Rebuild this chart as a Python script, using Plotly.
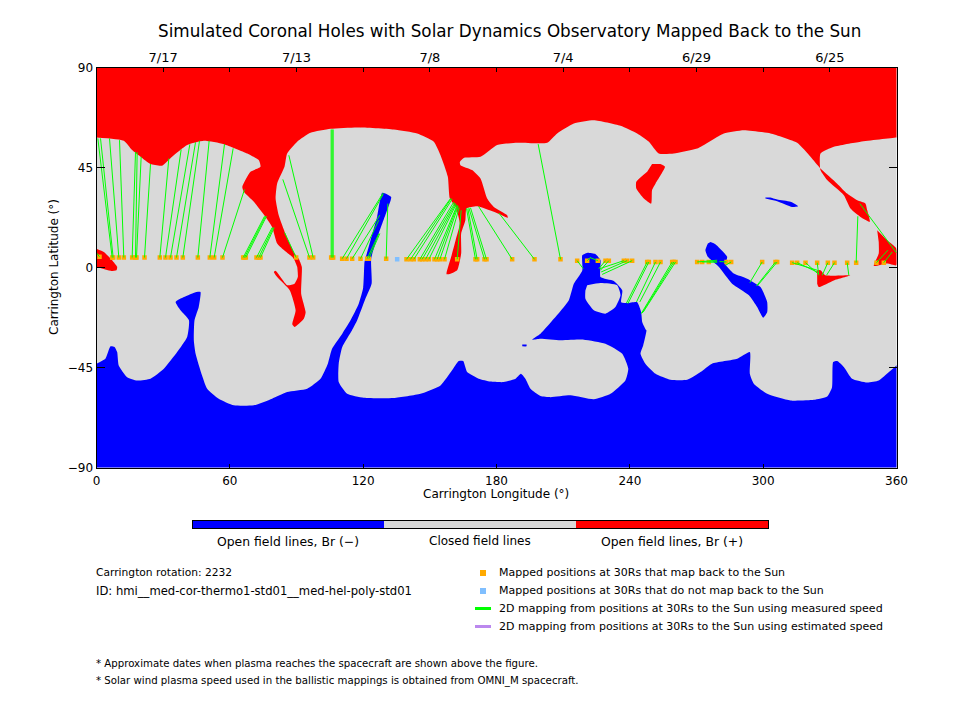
import plotly.graph_objects as go

# north polar hole (Br +), boundary read left to right, streaks included
north_lon = [0, 12.3, 16, 19.8, 24.3, 29.5, 34, 40.8, 48.3, 57.3, 67.8, 73, 73.8, 69.3, 65.6, 66.3, 70.8, 76, 79, 81.3,
             83.6, 88.1, 89.1, 90.3, 90.6, 89.1, 85.8, 80.6, 79.8, 81.3, 87, 89.6, 88.1, 89.1, 93.3, 94.1, 92.1, 92.4,
             91, 89.1, 87.3, 85, 82, 80.6, 81.3, 84.6, 85.8, 90.3, 96.3, 105.3, 117.3, 133.8, 144.3, 151.8, 154.8,
             158.1, 159, 161.6, 163.5, 161.6, 159.6, 157.5, 158.6, 162.3, 164.1, 164.1, 166, 166.5, 171.3, 178.8, 185.1,
             184.8, 178.8, 175.8, 172.8, 169, 163.8, 163.5, 165.3, 172.8, 180.3, 189.3, 202.8, 207.3, 214.8, 223.8,
             235.8, 243.3, 248.6, 253, 259.8, 270.3, 282.3, 291.3, 303.3, 315.3, 321.3, 325.8, 333.3, 337.8, 342.3, 346,
             346.8, 348, 343.8, 339.3, 336.3, 328.8, 325.8, 325.8, 331.8, 343.8, 360, 362, 362, -2, -2]
north_lat = [58.7, 57.2, 53, 50, 46.7, 46, 50, 55.3, 57.2, 55.7, 51.5, 48.5, 45.5, 43.2, 36.4, 34.2, 29.7, 23, 18.4, 10.9,
             8.6, 4.9, 3.4, 0.4, -4.2, -7.2, -7.9, -1.4, -1.9, -4.2, -10.2, -19.2, -25.5, -26.7, -23, -20, -11.7, 0.4,
             4.1, 6.4, 10.1, 15.4, 23.7, 31.2, 38, 45.5, 51.5, 56.8, 60.8, 62.6, 63.2, 62.3, 60.5, 56.8, 50.7,
             41, 31.2, 27.4, 19.9, 12.4, 4.9, -2.9, -2.9, -1.1, 6.4, 15.4, 21.4, 26.7, 27.7, 25.2, 22.5,
             23.7, 27.4, 31.2, 40.2, 44, 46.2, 47.7, 49.5, 50, 55.3, 56.3, 56.3, 60.5, 65, 66.5,
             64, 60.5, 56.8, 51.5, 51.5, 53.7, 60.5, 62, 60.5, 56.3, 50, 44.7, 37.9, 33.4, 30.4, 29,
             26, 20.7, 22.9, 26.7, 32.7, 39.5, 44, 51.5, 54.5, 56.8, 58.7, 58.9, 95, 95, 58.7]

# south polar hole (Br -), with the channels reaching up past the equator
south_lon = [0, 4, 6.3, 8.1, 9.3, 10, 13.8, 18.3, 24.3, 30.3, 36.3, 40.8, 41.6, 37.8, 35.6, 39.3, 45, 46.8, 46, 44.1, 43.8,
             44.6, 47.5, 49.8, 55, 61.8, 70.8, 79, 85.8, 94.8, 100.8, 104.1, 106, 110.6, 114.3, 118, 120, 120.6, 121,
             123.3, 126.3, 128.6, 132.6, 130.8, 127, 123.6, 123.8, 121, 117.3, 115, 110.6, 109, 109, 112.8, 120.3, 133.8,
             145.8, 154.8, 160, 163, 165, 166.8, 172, 177.3, 183.3, 188.6, 191, 193, 195.3, 199.8, 204.3, 213.3, 223.8,
             231.3, 238, 239.3, 236.6, 229, 219.3, 208.8, 199.8, 196, 199.8, 205.8, 212.5, 214.8, 218.6, 218.6, 220.8,
             224.6, 226.8, 226.8, 232.8, 236.6, 236.1, 238.8, 243.3, 245.1, 245.6, 247.4, 247.5, 246, 244.8, 247, 251.6,
             258.3, 265.8, 271.8, 277, 288.3, 294, 294, 295.8, 301.8, 312.3, 322.8, 328.8, 331, 331.5, 333.3, 336.3, 340,
             346.8, 352, 356.6, 360, 362, 362, -2, -2]
south_lat = [-43.2, -41, -35.4, -35.7, -38, -44, -49.3, -50.8, -50, -45.5, -38, -31.2, -23.7, -19.2, -15.4, -13.2, -10.9, -10.9, -17.7, -23.7, -32.7,
             -38.7, -48.5, -54.5, -59, -62, -62, -59, -56, -54.5, -50, -43.2, -36.5, -29.7, -23.7, -16.2, -9, 2.6, 4.1,
             12.4, 23, 33.8, 31.9, 26, 15.4, 4.1, -7.2, -14, -23.7, -28.2, -35.7, -43.2, -51.5, -56.8, -58.6, -58.7,
             -56.8, -53, -46.2, -42, -42, -47, -50, -51.3, -51.5, -50, -47.8, -50, -54.5, -57.8, -58.3, -57.5, -59.3,
             -56.8, -50.8, -45.5, -38.7, -34.2, -32.4, -32.7, -32, -32.4, -29.7, -23, -14.7, -7.2, -1.2, 5.6, 6.7,
             6.1, 3.4, -4.2, -6, -10.2, -15.5, -15.9, -15.5, -20, -24.5, -28.2, -28.2, -35, -38.7, -43.2, -47.8,
             -50.5, -50.5, -47, -43.2, -41, -38, -47.8, -52.3, -56.8, -59.8, -59.5, -58, -53.8, -42.5, -42, -44.7, -50,
             -51.7, -50.8, -47, -44, -42, -95, -95, -43]

# closed-field hole inside the blue region near 228 deg
hole_lon = [220.8, 226.8, 234.3, 235.8, 233.5, 229, 223.8, 220, 220]
hole_lat = [-7.9, -6.9, -7.9, -12.4, -17.7, -20.7, -19.2, -14, -10.2]

# isolated red patches
patch_a_lon = [0, 3.3, 7, 9.3, 9, 6.3, 0]
patch_a_lat = [8.6, 7.1, 3.4, 0.4, -1.1, -1.4, 0.4]
patch_b_lon = [250, 253.8, 255.8, 251.6, 250, 249.6, 246.3, 242.9, 242.9, 247.8]
patch_b_lat = [46.7, 46.7, 45.5, 38, 35, 28.9, 31.2, 35.7, 38.7, 43.2]
patch_c_lon = [324.3, 325.8, 328, 339.3, 331.8, 325, 324.3]
patch_c_lat = [-1.1, -1.1, -3.4, -3.4, -5.7, -8.7, -7.2]
patch_d_lon = [351.3, 355.8, 360, 360, 355.8, 349.8, 352, 352]
patch_d_lat = [16.9, 12.4, 8.6, 1.1, 1.9, 0.8, 6.4, 11.6]

# isolated blue patches
blue_a_lon = [276.3, 278.5, 283.8, 283, 286.8, 292.8, 298.8, 301.8, 301.8, 300, 297.3, 293.6, 286, 280, 275.1, 274, 275.1]
blue_a_lat = [11.6, 10.6, 4.9, 1.6, -2.6, -4.9, -8.7, -15.4, -20, -22.5, -17.7, -12.4, -7.2, 0.4, 4.9, 7.9, 10.9]
blue_b_lon = [301, 303, 306.3, 312.3, 315.8, 313, 306.3, 301]
blue_b_lat = [31.6, 31.6, 30.7, 29.7, 27.7, 27.4, 30, 31.2]
blue_c_lon = [191.6, 193.5, 193.5, 191.6]
blue_c_lat = [-34.6, -34.6, -35.4, -35.4]

# positions at 30Rs and their footpoints on the sun
map_lon = [7.05, 7.5, 10.05, 12.3, 16.05, 17.55, 18, 21.6, 28.5, 31.05, 33.3, 36, 38.85, 45.6, 51, 52.95, 56.7,
           66, 66.6, 67.2, 72, 73, 73.8, 89.85, 95.85, 97.5, 105.6, 106.05, 106.5,
           110.55, 112.5, 115.05, 118.8, 121.8, 122.55, 130.35,
           139.5, 141.3, 142.8, 145.5, 146.55, 148.05, 149.55, 152.1, 153.3, 154.5, 156.6, 162.3,
           170.55, 171.3, 174.6, 175.5, 187.05, 197.1, 208.8,
           216.3, 220.8, 225.6, 229.05, 230.55, 237.3, 238.8, 241.05,
           247.8, 248.55, 251.55, 253.8, 259.05, 259.8, 260.55, 270.3, 272.55, 275.55, 283.5, 285.6,
           299.55, 305.55, 306.3, 313.05, 315.3, 319.05, 324.3, 329.1, 332.1, 337.8, 341.85, 351, 354.3]
map_lat = [4.6] * 29 + [4.1] * 7 + [3.8] * 19 + [3.2] * 8 + [2.6] * 15 + [2.3] * 10
foot_lon = [0.6, 1.8, 5.85, 10.35, 17.55, 18.3, 20.1, 24.3, 32.55, 38.1, 42, 44.55, 46.35, 50.7, 57.6, 61.5, 66.6,
            75.6, 76.05, 76.5, 79.05, 79.5, 79.95, 84.6, 83.85, 86.55, 105.6, 106.05, 106.5,
            129, 129, 127.5, 127, 127.05, 127.5, 131.1,
            159.3, 159.6, 160.05, 160.8, 161.25, 161.55, 161.85, 162.3, 162.45, 162.75, 163.2, 164.1,
            166.5, 167.1, 167.55, 168.3, 171.9, 181.05, 198.75,
            219, 222.3, 222, 226.05, 226.8, 226.5, 227.1, 227.55,
            238.5, 239.1, 243, 244.5, 245.1, 245.55, 246, 279.3, 279.3, 279.3, 280.35, 283.05,
            294, 297, 297.6, 324.3, 324.3, 324.6, 325.05, 326.55, 328.5, 338.55, 342.6, 356.1, 358.05]
foot_lat = [58.3, 58.3, 58.3, 57.5, 52.2, 52, 50, 46.7, 49.2, 53.3, 55.6, 56.5, 57.2, 57.2, 55.7, 53.8, 35.3,
            23.2, 23.2, 23.2, 18.1, 18.1, 18.1, 15.9, 39.8, 50.7, 62.3, 62.3, 62.3,
            33.7, 33.1, 23.7, 21.4, 15.4, 15.4, 28.9,
            31.2, 31.2, 30.9, 29.7, 29.2, 28.9, 28.6, 28.2, 28, 27.7, 27.1, 25.9,
            26.7, 26.7, 27, 27, 27.7, 24.7, 55.7,
            -0.4, 4.6, 4.6, -0.4, -1.1, -0.4, -1.9, -3,
            -15.9, -16.2, -15.4, -15.4, -20.7, -20.4, -20, 3.4, 2.6, 2.6, 2.8, 1.1,
            -6.7, -8.2, -7.9, -1.1, -1.9, -2.7, -3.4, -3.4, -3.4, -3.4, 23.2, 7.9, 7.1]

# the one mapping that wraps across 360/0
wrap_lon = [343.5, 360, None, 0, 1.35]
wrap_lat = [28.9, 6.7, None, 6.7, 4.9]

# position with no mapping back to the sun
unmapped_lon = [135.3]
unmapped_lat = [3.8]

x_ticks = [0, 60, 120, 180, 240, 300, 360]
y_ticks = [-90, -45, 0, 45, 90]
top_ticks = [0, 30, 60, 90, 120, 150, 180, 210, 240, 270, 300, 330, 360]
top_labels = ["", "7/17", "", "7/13", "", "7/8", "", "7/4", "", "6/29", "", "6/25", ""]

RED = "#FF0000"
BLUE = "#0000FF"
GRAY = "#D9D9D9"
GREEN = "#00FF00"
ORANGE = "#FFAA00"
LIGHTBLUE = "#80BFFF"
PURPLE = "#BB88EE"
FONT = "DejaVu Sans"


def area(lon, lat, color):
    return go.Scatter(x=lon, y=lat, mode="lines", fill="toself", fillcolor=color,
                      line=dict(width=0, color=color, shape="spline", smoothing=0.5),
                      hoverinfo="skip", showlegend=False)


fig = go.Figure()
fig.add_trace(area(north_lon, north_lat, RED))
fig.add_trace(area(south_lon, south_lat, BLUE))
fig.add_trace(area(hole_lon, hole_lat, GRAY))
for lon, lat in [(patch_a_lon, patch_a_lat), (patch_b_lon, patch_b_lat),
                 (patch_c_lon, patch_c_lat), (patch_d_lon, patch_d_lat)]:
    fig.add_trace(area(lon, lat, RED))
for lon, lat in [(blue_a_lon, blue_a_lat), (blue_b_lon, blue_b_lat), (blue_c_lon, blue_c_lat)]:
    fig.add_trace(area(lon, lat, BLUE))

fig.add_trace(go.Scatter(x=map_lon + [1.35], y=map_lat + [4.9], mode="markers",
                         marker=dict(symbol="square", size=4.5, color=ORANGE, line=dict(width=0)), showlegend=False))
fig.add_trace(go.Scatter(x=unmapped_lon, y=unmapped_lat, mode="markers",
                         marker=dict(symbol="square", size=4.5, color=LIGHTBLUE, line=dict(width=0)), showlegend=False))

line_x = []
line_y = []
for i in range(len(map_lon)):
    line_x += [map_lon[i], foot_lon[i], None]
    line_y += [map_lat[i], foot_lat[i], None]
line_x += wrap_lon
line_y += wrap_lat
fig.add_trace(go.Scatter(x=line_x, y=line_y, mode="lines", line=dict(color=GREEN, width=1), showlegend=False))

# top axis needs a trace of its own to show up
fig.add_trace(go.Scatter(x=[None], y=[None], xaxis="x2", showlegend=False))

# colour bar
bar_labels = ["neg", "closed", "pos"]
bar_colors = [BLUE, GRAY, RED]
for name, col in zip(bar_labels, bar_colors):
    fig.add_trace(go.Bar(x=[1], y=[0], orientation="h", marker=dict(color=col, line=dict(width=0)),
                         xaxis="x3", yaxis="y3", showlegend=False, width=1, name=name))

W, H = 960, 720
PAGE_MARGIN = 8  # the browser's default body margin pushes the plot down and right


def px(v):
    return (v - PAGE_MARGIN) / W


def py(v):
    return 1 - (v - PAGE_MARGIN) / H


fig.update_layout(
    width=W, height=H, autosize=False,
    margin=dict(l=0, r=0, t=0, b=0),
    paper_bgcolor="white",
    plot_bgcolor=GRAY,
    barmode="stack",
    font=dict(family=FONT, size=12, color="black"),
    xaxis=dict(domain=[px(96.5), px(896.5)], range=[0, 360], tickmode="array", tickvals=x_ticks,
               ticks="inside", ticklen=4, tickcolor="black", showgrid=False, zeroline=False,
               showline=True, linecolor="black", linewidth=1, tickfont=dict(size=12), automargin=False,
               ticklabelstandoff=2),
    xaxis2=dict(overlaying="x", side="top", range=[0, 360], tickmode="array", tickvals=top_ticks,
                ticktext=top_labels, ticks="inside", ticklen=4, tickcolor="black", showgrid=False,
                zeroline=False, showline=True, linecolor="black", linewidth=1, tickfont=dict(size=13),
                anchor="y", automargin=False),
    yaxis=dict(domain=[py(467.5), py(68)], range=[-90, 90], tickmode="array", tickvals=y_ticks,
               ticks="inside", ticklen=8, tickcolor="black", showgrid=False, zeroline=False,
               showline=True, mirror="ticks", linecolor="black", linewidth=1, tickfont=dict(size=12),
               automargin=False),
    xaxis3=dict(domain=[px(192.5), px(768)], range=[0, 3], visible=True, showticklabels=False, ticks="",
                showgrid=False, zeroline=False, showline=True, mirror=True, linecolor="black", linewidth=1,
                anchor="y3", automargin=False),
    yaxis3=dict(domain=[py(528), py(521)], range=[-0.5, 0.5], showticklabels=False, ticks="",
                showgrid=False, zeroline=False, showline=True, mirror=True, linecolor="black", linewidth=1,
                anchor="x3", automargin=False),
)

texts = [
    ("Simulated Coronal Holes with Solar Dynamics Observatory Mapped Back to the Sun", 509, 31, "center", 16.8),
    ("Carrington Longitude (°)", 496, 494, "center", 12),
    ("Open field lines, Br (−)", 288, 541, "center", 12.4),
    ("Closed field lines", 480, 541, "center", 12),
    ("Open field lines, Br (+)", 672, 541, "center", 12.4),
    ("Carrington rotation: 2232", 94.5, 572, "left", 10.7),
    ("ID: hmi__med-cor-thermo1-std01__med-hel-poly-std01", 94.5, 590.5, "left", 11.6),
    ("* Approximate dates when plasma reaches the spacecraft are shown above the figure.", 94.5, 663, "left", 10.2),
    ("* Solar wind plasma speed used in the ballistic mappings is obtained from OMNI_M spacecraft.", 94.5, 680.5, "left", 10.2),
    ("Mapped positions at 30Rs that map back to the Sun", 498, 572, "left", 11),
    ("Mapped positions at 30Rs that do not map back to the Sun", 498, 590.5, "left", 11),
    ("2D mapping from positions at 30Rs to the Sun using measured speed", 498, 608.5, "left", 11),
    ("2D mapping from positions at 30Rs to the Sun using estimated speed", 498, 626.5, "left", 11),
]
for t, x, y, anchor, size in texts:
    fig.add_annotation(text=t, xref="paper", yref="paper", x=px(x), y=py(y), xanchor=anchor, yanchor="middle",
                       showarrow=False, font=dict(size=size), borderpad=0)
fig.add_annotation(text="Carrington Latitude (°)", xref="paper", yref="paper", x=px(54), y=py(267), textangle=-90,
                   xanchor="center", yanchor="middle", showarrow=False, font=dict(size=12), borderpad=0)

# legend keys
fig.add_shape(type="rect", xref="paper", yref="paper", x0=px(480), x1=px(486), y0=py(570), y1=py(576),
              fillcolor=ORANGE, line_width=0)
fig.add_shape(type="rect", xref="paper", yref="paper", x0=px(480), x1=px(486), y0=py(588), y1=py(594),
              fillcolor=LIGHTBLUE, line_width=0)
fig.add_shape(type="rect", xref="paper", yref="paper", x0=px(475), x1=px(491), y0=py(607), y1=py(610),
              fillcolor=GREEN, line_width=0)
fig.add_shape(type="rect", xref="paper", yref="paper", x0=px(475), x1=px(491), y0=py(625), y1=py(628),
              fillcolor=PURPLE, line_width=0)

fig.write_html("out.html")
